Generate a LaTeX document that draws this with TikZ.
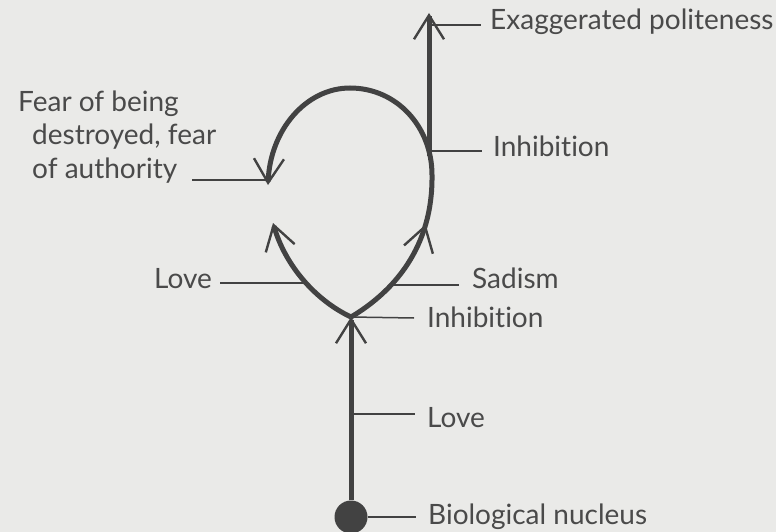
\documentclass[tikz,border=0pt]{standalone}
\usepackage{fontspec}
\setmainfont{Lato}[Ligatures=CommonOff]
\usetikzlibrary{arrows.meta,decorations.markings}
\definecolor{ink}{RGB}{66,66,66}
\definecolor{txt}{RGB}{74,74,74}
\definecolor{paper}{RGB}{234,234,232}
\begin{document}
\begin{tikzpicture}[x=1pt,y=-1pt,
  trunk/.style={draw=ink,line width=5pt},
  leader/.style={draw=ink,line width=1.5pt},
  barbtip/.style={-{Straight Barb[length=24pt,width=30pt,line width=2.4pt]}},
  midbarb/.style={postaction={decorate},decoration={markings,mark=at position #1 with {\arrow{Straight Barb[length=24pt,width=30pt,line width=2.4pt]}}}},
  lbl/.style={text=txt,inner sep=0pt,anchor=base west,font=\fontsize{28}{33}\selectfont},
  nucleus/.style={circle,fill=ink,minimum size=33pt,inner sep=0pt}]
\useasboundingbox (0,0) rectangle (776,532);
\fill[paper] (0,0) rectangle (776,532);
% structure points
\coordinate (F) at (351,317);
\coordinate (P1) at (432,175);
\coordinate (T) at (350,88);
\coordinate (Rtip) at (268,185);
\coordinate (Ltip) at (273,223);
\coordinate (J) at (429,156);
\coordinate (Vtop) at (429,13);
\node[nucleus] (nuc) at (351,517) {};
% main strokes
\draw[trunk,barbtip] (nuc) -- (F);
\draw[trunk,barbtip] (F) .. controls (315,300) and (285,265) .. (Ltip);
\draw[trunk,barbtip,midbarb=122pt] (F) .. controls (393,292) and (433,248) .. (P1)
   .. controls (432,127) and (397,88) .. (T)
   .. controls (306,88) and (270,130) .. (Rtip);
\draw[trunk,barbtip] (J) -- (Vtop);
% labels
\node[lbl] (exag) at (490,30) {Exaggerated politeness};
\node[lbl] (inh1) at (493,157) {Inhibition};
\node[lbl] (fear1) at (18,112) {Fear of being};
\node[lbl] (fear2) at (32,145) {destroyed, fear};
\node[lbl] (fear3) at (32,178) {of authority};
\node[lbl] (love1) at (154,288) {Love};
\node[lbl] (sad) at (472,288) {Sadism};
\node[lbl] (inh2) at (427,327) {Inhibition};
\node[lbl] (love2) at (427,427) {Love};
\node[lbl] (bio) at (428,524) {Biological nucleus};
% leader points
\coordinate (exS) at (429,25);  \coordinate (exE) at (481,25);
\coordinate (i1S) at (429,151); \coordinate (i1E) at (482,151);
\coordinate (auS) at (192,180); \coordinate (auE) at (268,180);
\coordinate (l1S) at (220,283); \coordinate (l1E) at (305,283);
\coordinate (sdS) at (391,285); \coordinate (sdE) at (459,285);
\coordinate (i2E) at (414,318);
\coordinate (l2S) at (351,414); \coordinate (l2E) at (415,414);
\coordinate (bioE) at (416,517);
% leaders
\draw[leader] (exS) -- (exE);
\draw[leader] (i1S) -- (i1E);
\draw[leader] (auS) -- (auE);
\draw[leader] (l1S) -- (l1E);
\draw[leader] (sdS) -- (sdE);
\draw[leader] (F) -- (i2E);
\draw[leader] (l2S) -- (l2E);
\draw[leader] (nuc.east) -- (bioE);
\end{tikzpicture}
\end{document}
